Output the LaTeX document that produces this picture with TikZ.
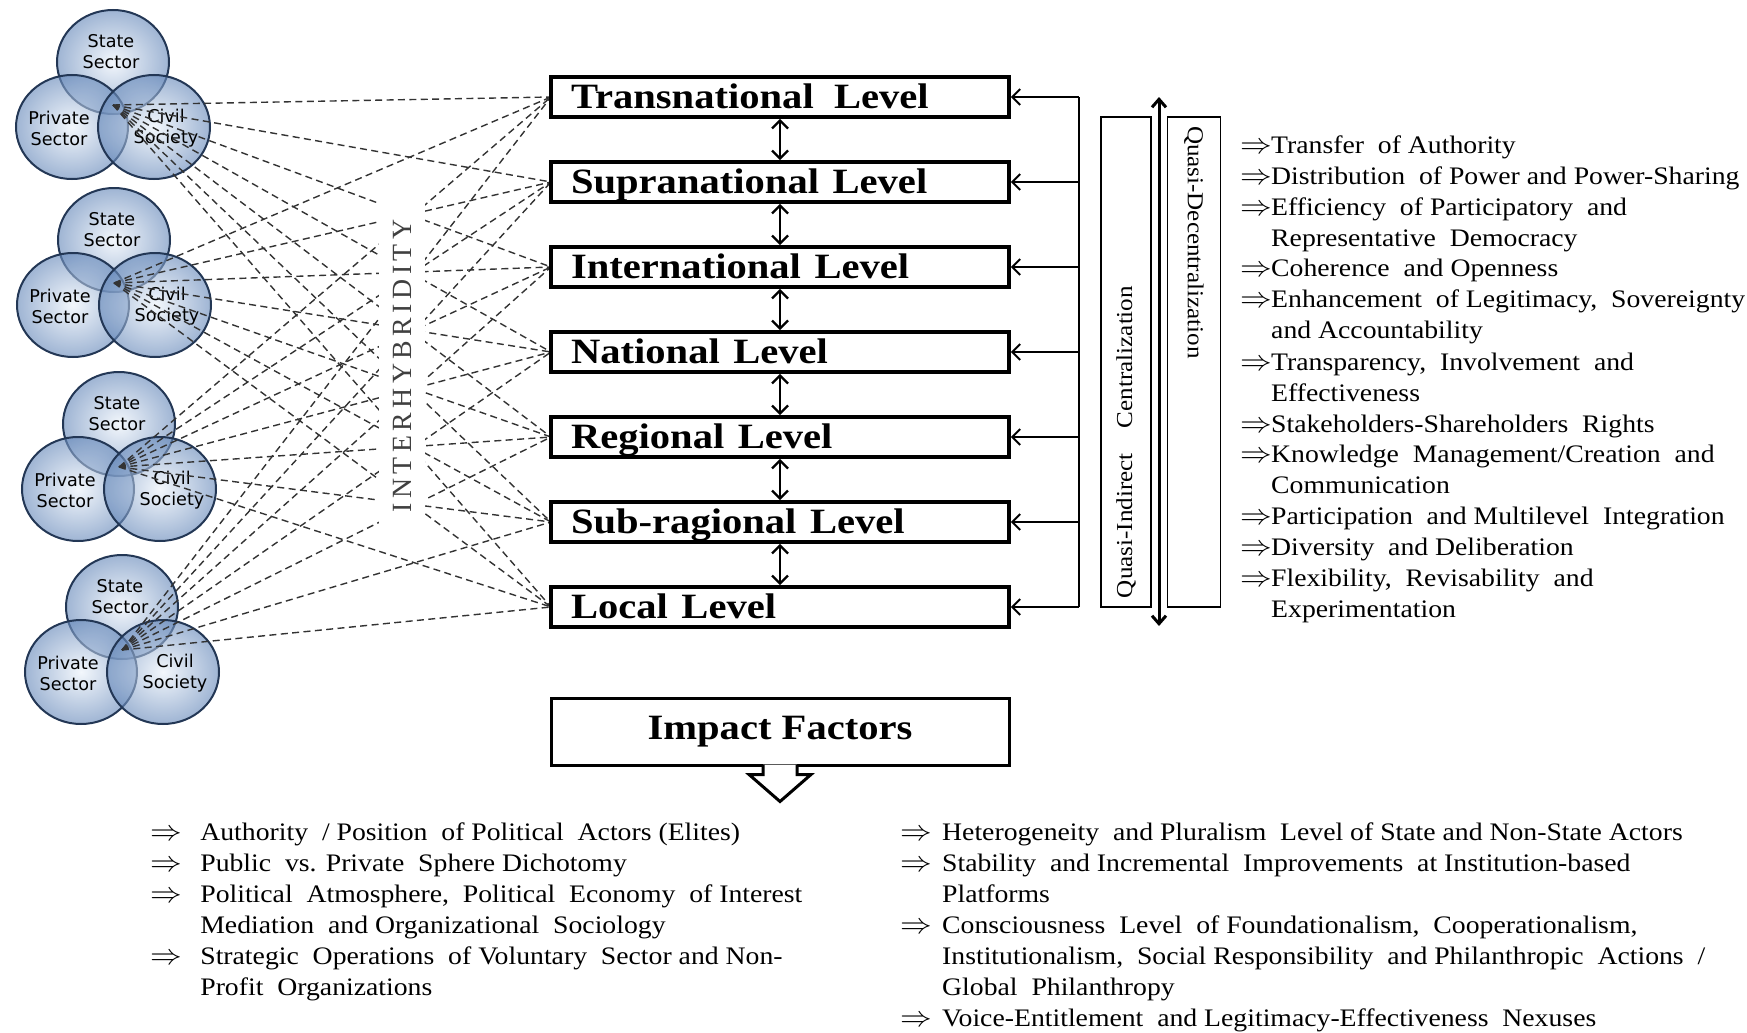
\documentclass[tikz,border=0pt]{standalone}
\usepackage{fontspec}
\usepackage{graphicx}
\setmainfont{Liberation Serif}
\newfontfamily\spacedfont[LetterSpace=16]{Liberation Serif}
\newfontfamily\vennfont{DejaVu Sans}
\usetikzlibrary{calc,arrows.meta}
\definecolor{vennrim}{RGB}{35,55,85}
\definecolor{vennin}{RGB}{235,242,250}
\definecolor{vennout}{RGB}{100,135,185}
\def\Imp{{\fontsize{15}{15}\selectfont$\Rightarrow$}}
\def\Wide#1#2{\scalebox{#1}[1]{#2}}
\tikzset{
  venn circle/.style={draw=vennrim, line width=1pt, inner color=vennin,
     outer color=vennout, fill opacity=0.62, draw opacity=1},
  venn text/.style={font=\vennfont\fontsize{8.8}{10.5}\selectfont,
     align=center, inner sep=0pt},
  hybrid line/.style={draw=black!80, line width=0.7pt,
     dash pattern=on 3.5pt off 2.2pt},
  level box/.style={draw, line width=1.8pt, fill=white, text width=209pt,
     inner xsep=10pt, inner ysep=0pt, minimum height=20pt, align=left,
     text height=15pt, text depth=4pt,
     font=\bfseries\fontsize{17.8}{20}\selectfont},
  level arrow/.style={line width=1.2pt,
     {Straight Barb[length=4pt,width=8pt]}-{Straight Barb[length=4pt,width=8pt]}},
  rail arrow/.style={line width=1pt, -{Straight Barb[length=4pt,width=8pt]}},
  side box/.style={draw, line width=0.7pt, minimum height=25pt,
     inner xsep=4.5pt, text width=236pt, align=left,
     font=\fontsize{11.4}{13}\selectfont},
  factor list/.style={anchor=base west, inner sep=0pt,
     font=\fontsize{12.6}{15.5}\selectfont}
}
\def\Venn#1#2#3{%
  \coordinate (#1) at (#2,#3);
  \foreach \dx/\dy in {0/-43,-41/22,41/22}
    \shadedraw[venn circle] ($(#1)+(\dx,\dy)$) ellipse (28pt and 26pt);
  \node[venn text] (#1s) at ($(#1)+(-2,-53)$) {State\\Sector};
  \node[venn text] (#1p) at ($(#1)+(-54,23)$) {Private\\Sector};
  \node[venn text] (#1c) at ($(#1)+(53,23)$) {Civil\\Society};
}
\def\Level#1#2{%
  \node[level box] (L#1) at (780,12+85*#1) {\Wide{1.14}{#2}};
}

\begin{document}
\begin{tikzpicture}[x=0.5pt, y=-0.5pt]
\useasboundingbox (0,0) rectangle (1747,1033);
\Venn{G1}{113}{105}
\Venn{G2}{114}{283}
\Venn{G3}{119}{467}
\Venn{G4}{122}{650}
% interhybridity web
\foreach \i in {1,...,7}
  \coordinate (L\i) at (551,12+85*\i);
\foreach \g in {G1,G2,G3,G4}
  \foreach \i in {1,...,7}
    \draw[hybrid line] (\g) -- (L\i);
\node[fill=white, rotate=90, minimum width=163.5pt, minimum height=23pt,
  inner sep=0pt, text=black!75, font=\spacedfont\fontsize{13.9}{14}\selectfont]
  (Hybrid) at (402,366) {INTERHYBRIDITY};
\Level{1}{Transnational\, Level}
\Level{2}{Supranational Level}
\Level{3}{International Level}
\Level{4}{National Level}
\Level{5}{Regional Level}
\Level{6}{Sub-ragional Level}
\Level{7}{Local Level}
\foreach \i [evaluate=\i as \j using int(\i+1)] in {1,...,6}
  \draw[level arrow] (L\i.south) -- (L\j.north);
% centralization rail
\coordinate (rail) at (1079,0);
\draw[line width=1pt] (L1.east -| rail) -- (L7.east -| rail);
\foreach \i in {1,...,7}
  \draw[rail arrow] (L\i.east -| rail) -- (L\i.east);
\node[side box, rotate=90] (Cent) at (1126,362) {\Wide{1.1}{Quasi-Indirect\quad Centralization}};
\node[side box, rotate=-90, minimum height=26.5pt] (Decent) at (1194,362) {\Wide{1.1}{Quasi-Decentralization}};
\coordinate (ctop) at (1159,97);
\coordinate (cbot) at (1159,626);
\draw[line width=1.5pt,
  {Straight Barb[length=4pt,width=7pt]}-{Straight Barb[length=4pt,width=7pt]}]
  (ctop) -- (cbot);
\node[factor list] (Aims) at (1240,153) {\Wide{1.1}{\begin{tabular}[t]{@{}p{14pt}@{}l@{}}
\Imp & Transfer\ \ of Authority\\
\Imp & Distribution\ \ of Power and Power-Sharing\\
\Imp & Efficiency\ \ of Participatory\ \ and\\
 & Representative\ \ Democracy\\
\Imp & Coherence\ \ and Openness\\
\Imp & Enhancement\ \ of Legitimacy,\ \ Sovereignty\\
 & and Accountability\\
\Imp & Transparency,\ \ Involvement\ \ and\\
 & Effectiveness\\
\Imp & Stakeholders-Shareholders\ \ Rights\\
\Imp & Knowledge\ \ Management/Creation\ \ and\\
 & Communication\\
\Imp & Participation\ \ and Multilevel\ \ Integration\\
\Imp & Diversity\ \ and Deliberation\\
\Imp & Flexibility,\ \ Revisability\ \ and\\
 & Experimentation
\end{tabular}}};
% impact factors
\node[draw, line width=1.5pt, minimum width=229pt, minimum height=33.5pt,
  font=\bfseries\fontsize{17.8}{20}\selectfont] (Impact) at (780,731.5) {\Wide{1.14}{Impact Factors}};
\filldraw[fill=white, line width=1.5pt, line join=miter]
  ($(Impact.south)+(-17,-2)$) -- ++(0,10) -- ++(-14,0) -- ($(Impact.south)+(0,35)$)
  -- ++(31,-27) -- ++(-14,0) -- ++(0,-10);
\node[factor list] (FactL) at (150,840) {\Wide{1.1}{\begin{tabular}[t]{@{}p{22.7pt}@{}l@{}}
\Imp & Authority\ \ / Position\ \ of Political\ \ Actors (Elites)\\
\Imp & Public\ \ vs. Private\ \ Sphere Dichotomy\\
\Imp & Political\ \ Atmosphere,\ \ Political\ \ Economy\ \ of Interest\\
 & Mediation\ \ and Organizational\ \ Sociology\\
\Imp & Strategic\ \ Operations\ \ of Voluntary\ \ Sector and Non-\\
 & Profit\ \ Organizations
\end{tabular}}};
\node[factor list] (FactR) at (900,840) {\Wide{1.1}{\begin{tabular}[t]{@{}p{19pt}@{}l@{}}
\Imp & Heterogeneity\ \ and Pluralism\ \ Level of State and Non-State Actors\\
\Imp & Stability\ \ and Incremental\ \ Improvements\ \ at Institution-based\\
 & Platforms\\
\Imp & Consciousness\ \ Level\ \ of Foundationalism,\ \ Cooperationalism,\\
 & Institutionalism,\ \ Social Responsibility\ \ and Philanthropic\ \ Actions\ \ /\\
 & Global\ \ Philanthropy\\
\Imp & Voice-Entitlement\ \ and Legitimacy-Effectiveness\ \ Nexuses
\end{tabular}}};
\end{tikzpicture}
\end{document}
